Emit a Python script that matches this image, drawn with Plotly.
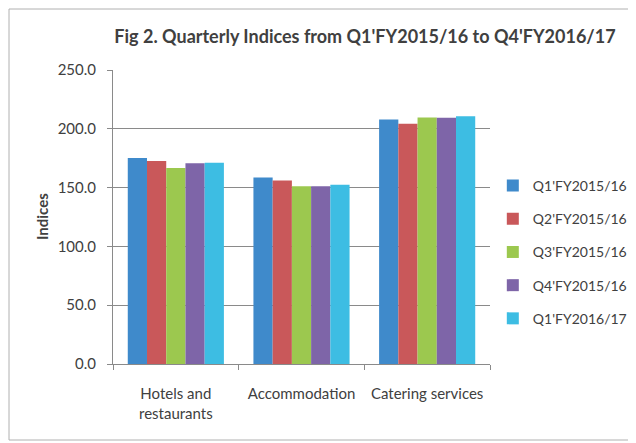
import plotly.graph_objects as go

categories = ["Hotels and<br>restaurants", "Accommodation", "Catering services"]
series_names = ["Q1'FY2015/16", "Q2'FY2015/16", "Q3'FY2015/16", "Q4'FY2015/16", "Q1'FY2016/17"]
q1_1516 = [175.2, 158.6, 207.9]
q2_1516 = [172.6, 156.1, 204.2]
q3_1516 = [166.7, 151.2, 209.6]
q4_1516 = [170.6, 151.2, 209.5]
q1_1617 = [171.2, 152.4, 210.7]
values = [q1_1516, q2_1516, q3_1516, q4_1516, q1_1617]
colors = ["#3F8ACB", "#C9585A", "#9CC84F", "#7E65A8", "#3DBDE3"]

FONT = "Lato, 'Open Sans', sans-serif"
W, H = 628, 435
fig = go.Figure()
for i, (name, vals) in enumerate(zip(series_names, values)):
    fig.add_trace(go.Bar(x=categories, y=vals, name=name, marker_color=colors[i],
                         marker_line_width=0, legendgroup=f"g{i}"))

fig.update_layout(
    width=W, height=H,
    margin=dict(l=105, r=146, t=62, b=79),
    paper_bgcolor="white", plot_bgcolor="white",
    barmode="group", bargap=0.235, bargroupgap=0,
    font=dict(family=FONT, size=15, color="#404040"),
    title=dict(text="<b>Fig 2. Quarterly Indices from Q1'FY2015/16 to Q4'FY2016/17</b>",
               x=357 / W, xref="container", xanchor="center",
               y=1 - 29 / H, yref="container", yanchor="middle",
               font=dict(size=18, color="#404040", family=FONT)),
    legend=dict(x=0.772, xref="container", y=0.66, xanchor="left", yanchor="top",
                font=dict(size=14, color="#404040"), tracegroupgap=12,
                itemwidth=30, bgcolor="rgba(0,0,0,0)"),
    showlegend=True,
)
fig.update_yaxes(range=[0, 250], dtick=50, tickformat=".1f", showgrid=True,
                 gridcolor="#8a8a8a", gridwidth=1, showline=True, linecolor="#8a8a8a",
                 ticks="outside", ticklen=5, tickcolor="#8a8a8a", zeroline=False,
                 ticklabelstandoff=8, automargin=False)
fig.update_xaxes(showline=True, linecolor="#8a8a8a", ticks="outside", tickson="boundaries",
                 ticklen=5, tickcolor="#8a8a8a", ticklabelstandoff=16, tickangle=0,
                 automargin=False)

fig.add_annotation(text="<b>Indices</b>", xref="paper", yref="paper",
                   x=(34 - 105) / 377, y=0.5, textangle=-90, showarrow=False,
                   xanchor="center", yanchor="middle",
                   font=dict(size=15, color="#404040", family=FONT))

fig.add_shape(type="rect", xref="paper", yref="paper",
              x0=(1 - 105) / 377, x1=(623 - 105) / 377,
              y0=(356 - 432) / 294, y1=(356 - 1) / 294,
              line=dict(color="#b0b0b0", width=1), layer="below")

fig.write_html("out.html")
